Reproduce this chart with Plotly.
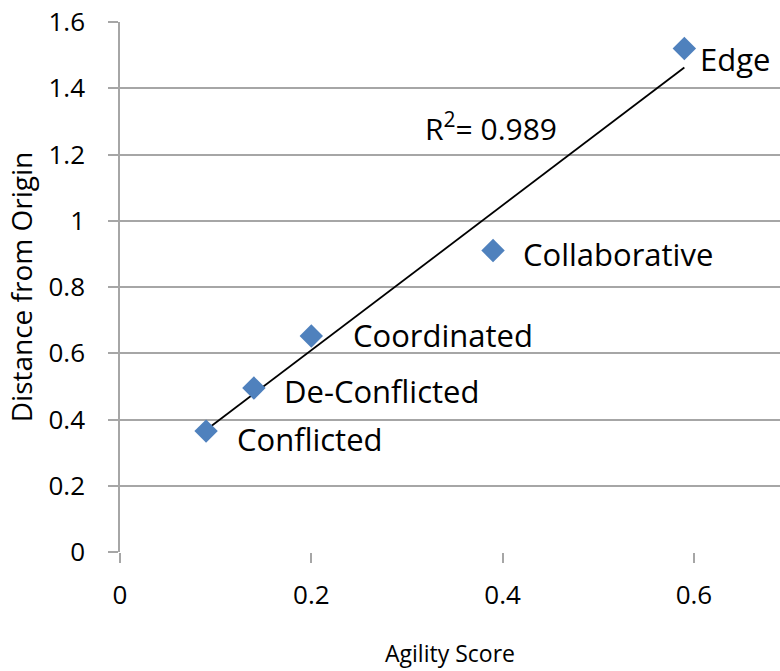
import numpy as np
import plotly.graph_objects as go

# Agility score vs. distance from origin for each approach
approaches = ["Conflicted", "De-Conflicted", "Coordinated", "Collaborative", "Edge"]
agility = [0.09, 0.14, 0.20, 0.39, 0.59]
distance = [0.365, 0.495, 0.652, 0.910, 1.520]
r_squared_label = "0.989"

x_ticks = [0, 0.2, 0.4, 0.6]
y_ticks = [0, 0.2, 0.4, 0.6, 0.8, 1, 1.2, 1.4, 1.6]

# Pixel offsets of each point label (right of the marker)
label_dx = [29, 28, 40, 28, 14]
label_dy = [-8, -3, 1, -3, -10]

# Least-squares linear trend across the data range
slope, intercept = np.polyfit(agility, distance, 1)
trend_x = [min(agility), max(agility)]
trend_y = [slope * v + intercept for v in trend_x]

FONT = "Open Sans, Lato, sans-serif"
GRID = "#A6A6A6"

fig = go.Figure()
fig.add_trace(go.Scatter(
    x=trend_x, y=trend_y, mode="lines",
    line=dict(color="black", width=1.8),
    hoverinfo="skip", showlegend=False,
))
fig.add_trace(go.Scatter(
    x=agility, y=distance, mode="markers",
    marker=dict(symbol="diamond", size=18, color="#4F81BD"),
    showlegend=False,
))

for name, xv, yv, dx, dy in zip(approaches, agility, distance, label_dx, label_dy):
    fig.add_annotation(
        x=xv, y=yv, text=name, showarrow=False,
        xanchor="left", yanchor="middle",
        xshift=dx, yshift=dy,
        font=dict(family=FONT, size=31, color="black"),
    )

fig.add_annotation(
    x=0.388, y=1.282, text="R<sup>2</sup>= " + r_squared_label, showarrow=False,
    xanchor="center", yanchor="middle",
    font=dict(family=FONT, size=30, color="black"),
)

fig.update_layout(
    width=780, height=671,
    margin=dict(l=120, r=0, t=22, b=119),
    paper_bgcolor="white", plot_bgcolor="white",
    font=dict(family=FONT, size=26, color="black"),
)
fig.update_xaxes(
    range=[0, 0.69], tickvals=x_ticks, ticktext=[f"{v:g}" for v in x_ticks],
    showgrid=False, zeroline=False,
    showline=False, ticks="outside", ticklen=10, tickwidth=1.5, tickcolor=GRID,
    tickfont=dict(size=26), ticklabelstandoff=10,
    title=dict(text="Agility Score", font=dict(size=23), standoff=34),
)
fig.update_yaxes(
    range=[0, 1.6], tickvals=y_ticks, ticktext=[f"{v:g}" for v in y_ticks],
    showgrid=True, gridcolor=GRID, gridwidth=1.5,
    zeroline=False, showline=True, linecolor=GRID, linewidth=1.5,
    ticks="outside", ticklen=10, tickwidth=1.5, tickcolor=GRID,
    tickfont=dict(size=26), ticklabelstandoff=18,
    title=dict(text="Distance from Origin", font=dict(size=28), standoff=8),
)

fig.write_html("out.html")
